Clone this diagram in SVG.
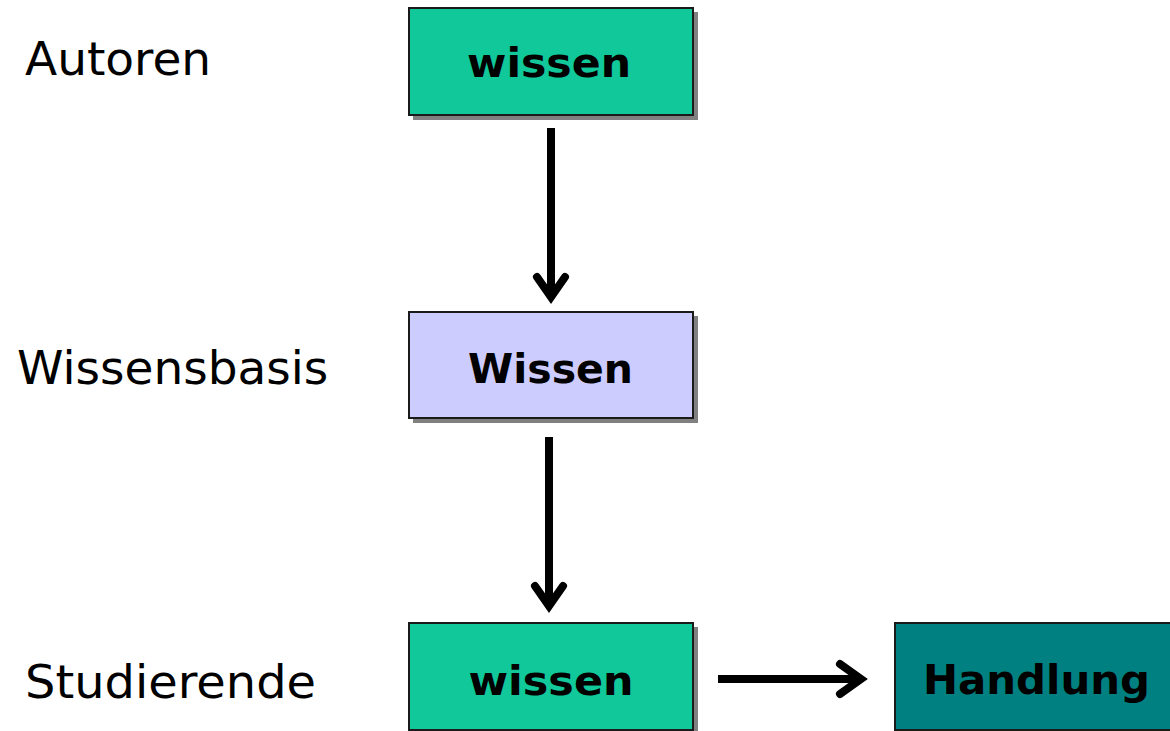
<svg xmlns="http://www.w3.org/2000/svg" width="1170" height="731" viewBox="0 0 1170 731">
<style>
.lbl{font-family:"DejaVu Sans",Verdana,sans-serif;font-size:47px;fill:#000}
.btxt{font-family:"DejaVu Sans",Verdana,sans-serif;font-size:41px;font-weight:bold;fill:#000;text-anchor:middle}
.box{stroke:#1a1a1a;stroke-width:2}
.shadow{fill:#808080}
.shaft{stroke:#000;stroke-width:8;fill:none;stroke-linecap:butt}
.head{stroke:#000;stroke-width:8;fill:none;stroke-linecap:round;stroke-linejoin:miter}
</style>
<rect width="1170" height="731" fill="#fff"/>
<g id="label-autoren"><text class="lbl" x="25" y="75">Autoren</text></g>
<g id="label-wissensbasis"><text class="lbl" x="17" y="384">Wissensbasis</text></g>
<g id="label-studierende"><text class="lbl" x="25" y="698" textLength="291" lengthAdjust="spacingAndGlyphs">Studierende</text></g>
<g id="node-wissen-top">
<rect class="shadow" x="413" y="12" width="285" height="108"/>
<rect class="box" x="409" y="8" width="284" height="107" fill="#10C89A"/>
<text class="btxt" x="549" y="77" textLength="164" lengthAdjust="spacingAndGlyphs">wissen</text>
</g>
<g id="node-Wissen-mid">
<rect class="shadow" x="413" y="316" width="285" height="107"/>
<rect class="box" x="409" y="312" width="284" height="106" fill="#CCCCFF"/>
<text class="btxt" x="550.5" y="383" textLength="165" lengthAdjust="spacingAndGlyphs">Wissen</text>
</g>
<g id="node-wissen-bottom">
<rect class="shadow" x="413" y="627" width="285" height="108"/>
<rect class="box" x="409" y="623" width="284" height="107" fill="#10C89A"/>
<text class="btxt" x="551" y="695" textLength="165" lengthAdjust="spacingAndGlyphs">wissen</text>
</g>
<g id="node-handlung">
<rect class="shadow" x="899" y="627" width="290" height="108"/>
<rect class="box" x="895" y="623" width="290" height="107" fill="#008080"/>
<text class="btxt" x="1036.5" y="694" textLength="227" lengthAdjust="spacingAndGlyphs">Handlung</text>
</g>
<g id="connectors">
<line class="shaft" x1="551" y1="128" x2="551" y2="297"/>
<polyline class="head" points="537,277 551,297 565,277"/>
<line class="shaft" x1="549" y1="437" x2="549" y2="606"/>
<polyline class="head" points="535,586 549,606 563,586"/>
<line class="shaft" x1="718" y1="679" x2="861" y2="679"/>
<polyline class="head" points="840,664 861,679 840,694"/>
</g>
</svg>
